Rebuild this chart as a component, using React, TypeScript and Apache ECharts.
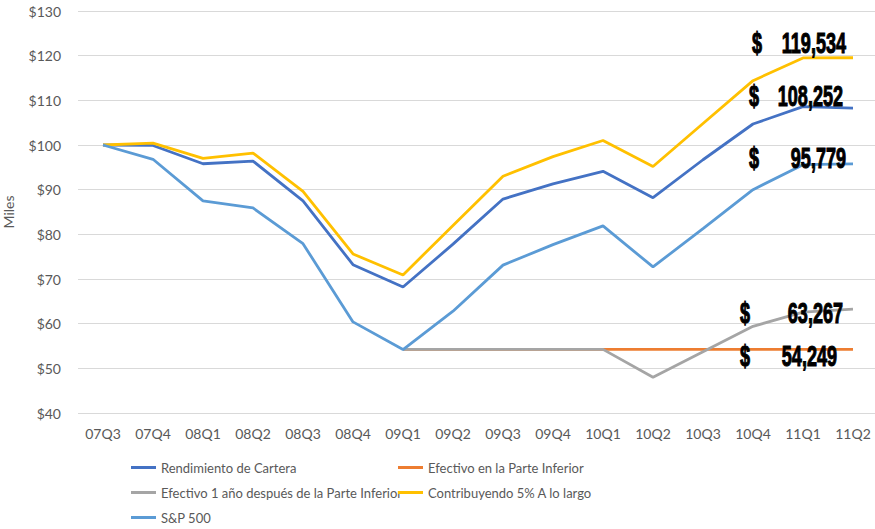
import React, { useEffect, useRef } from "react";
import * as echarts from "echarts";

const categories = ["07Q3", "07Q4", "08Q1", "08Q2", "08Q3", "08Q4", "09Q1", "09Q2", "09Q3", "09Q4", "10Q1", "10Q2", "10Q3", "10Q4", "11Q1", "11Q2"];
const rendimiento = [100, 99.9, 95.8, 96.4, 87.5, 73.2, 68.2, 77.8, 87.9, 91.3, 94.1, 88.2, 96.7, 104.7, 108.6, 108.252];
const efectivo = [null, null, null, null, null, null, 54.249, 54.249, 54.249, 54.249, 54.249, 54.249, 54.249, 54.249, 54.249, 54.249];
const efectivo1 = [null, null, null, null, null, null, 54.249, 54.249, 54.249, 54.249, 54.249, 48.0, 53.7, 59.4, 62.6, 63.267];
const contribuyendo = [100, 100.4, 97.0, 98.2, 89.6, 75.6, 70.9, 82.0, 93.0, 97.4, 101.0, 95.2, 104.8, 114.4, 119.5, 119.534];
const sp500 = [100, 96.8, 87.5, 85.9, 77.9, 60.4, 54.2, 62.8, 73.1, 77.7, 81.9, 72.7, 81.3, 90.0, 95.6, 95.779];

const seriesNames = [
  "Rendimiento de Cartera",
  "Efectivo en la Parte Inferior",
  "Efectivo 1 año después de la Parte Inferior",
  "Contribuyendo 5% A lo largo",
  "S&P 500",
];
const endValues = [119.534, 108.252, 95.779, 63.267, 54.249];
const endLabels = ["119,534", "108,252", "95,779", "63,267", "54,249"];

// styling offsets for annotations (pixels relative to last point)
const annOffsets = [
  { dollar: -101, num: -7, dy: -15 },
  { dollar: -104, num: -10, dy: -12 },
  { dollar: -104, num: -7, dy: -6 },
  { dollar: -113, num: -10, dy: 4 },
  { dollar: -113, num: -16, dy: 6 },
];

const colors = ["#4472C4", "#ED7D31", "#A5A5A5", "#FFC000", "#5B9BD5"];

export default function App() {
  const ref = useRef<HTMLDivElement>(null);
  useEffect(() => {
    document.body.style.margin = "0";
    const chart = echarts.init(ref.current!, null, { renderer: "svg" });
    const datasets = [rendimiento, efectivo, efectivo1, contribuyendo, sp500];
    const font = "Lato, 'Liberation Sans', sans-serif";
    const legendCommon = {
      orient: "vertical",
      top: 456,
      height: 80,
      itemGap: 12,
      itemWidth: 25,
      itemHeight: 3,
      icon: "rect",
      textStyle: { color: "#595959", fontSize: 13, fontFamily: font },
    };
    chart.setOption({
      animation: false,
      backgroundColor: "#ffffff",
      grid: { left: 78, width: 800, top: 11, height: 402, containLabel: false, outerBoundsMode: "none" },
      xAxis: {
        type: "category",
        data: categories,
        boundaryGap: true,
        axisLine: { show: false },
        axisTick: { show: false },
        axisLabel: { color: "#595959", fontSize: 14, fontFamily: font, margin: 13 },
      },
      yAxis: {
        type: "value",
        min: 40,
        max: 130,
        interval: 10,
        name: "Miles",
        nameLocation: "middle",
        nameGap: 63,
        nameRotate: 90,
        nameTextStyle: { color: "#595959", fontSize: 14, fontFamily: font },
        axisLine: { show: false },
        axisTick: { show: false },
        splitLine: { lineStyle: { color: "#d9d9d9", width: 1 } },
        axisLabel: { color: "#595959", fontSize: 14, fontFamily: font, margin: 17, formatter: "${value}" },
      },
      legend: [
        { ...legendCommon, data: [seriesNames[0], seriesNames[2], seriesNames[4]], left: 126 },
        { ...legendCommon, data: [seriesNames[1], seriesNames[3]], left: 393 },
      ],
      series: seriesNames.map((name, i) => ({
        name,
        type: "line",
        data: datasets[i],
        symbol: "none",
        color: colors[i],
        itemStyle: { color: colors[i] },
        lineStyle: { color: colors[i], width: 2.8 },
        z: 2 + i,
      })),
    });

    const graphics: any[] = [];
    const annFont = "'Liberation Sans', Arial, sans-serif";
    endValues.forEach((v, k) => {
      const p = chart.convertToPixel({ xAxisIndex: 0, yAxisIndex: 0 }, [categories[categories.length - 1], v]) as number[];
      const o = annOffsets[k];
      const base = { fill: "#000", fontSize: 22, fontWeight: "bold", fontFamily: annFont, stroke: "#000", lineWidth: 0.8 };
      graphics.push({
        type: "text",
        x: p[0] + o.dollar,
        y: p[1] + o.dy,
        scaleX: 0.82,
        scaleY: 1.3,
        z: 100,
        style: { ...base, text: "$", textAlign: "left", textVerticalAlign: "middle", align: "left", verticalAlign: "middle" },
      });
      graphics.push({
        type: "text",
        x: p[0] + o.num,
        y: p[1] + o.dy,
        scaleX: 0.82,
        scaleY: 1.3,
        z: 100,
        style: { ...base, text: endLabels[k], textAlign: "right", textVerticalAlign: "middle", align: "right", verticalAlign: "middle" },
      });
    });
    chart.setOption({ graphic: graphics });
    return () => chart.dispose();
  }, []);
  return <div ref={ref} style={{ position: "fixed", left: 0, top: 0, width: 875, height: 529 }} />;
}
